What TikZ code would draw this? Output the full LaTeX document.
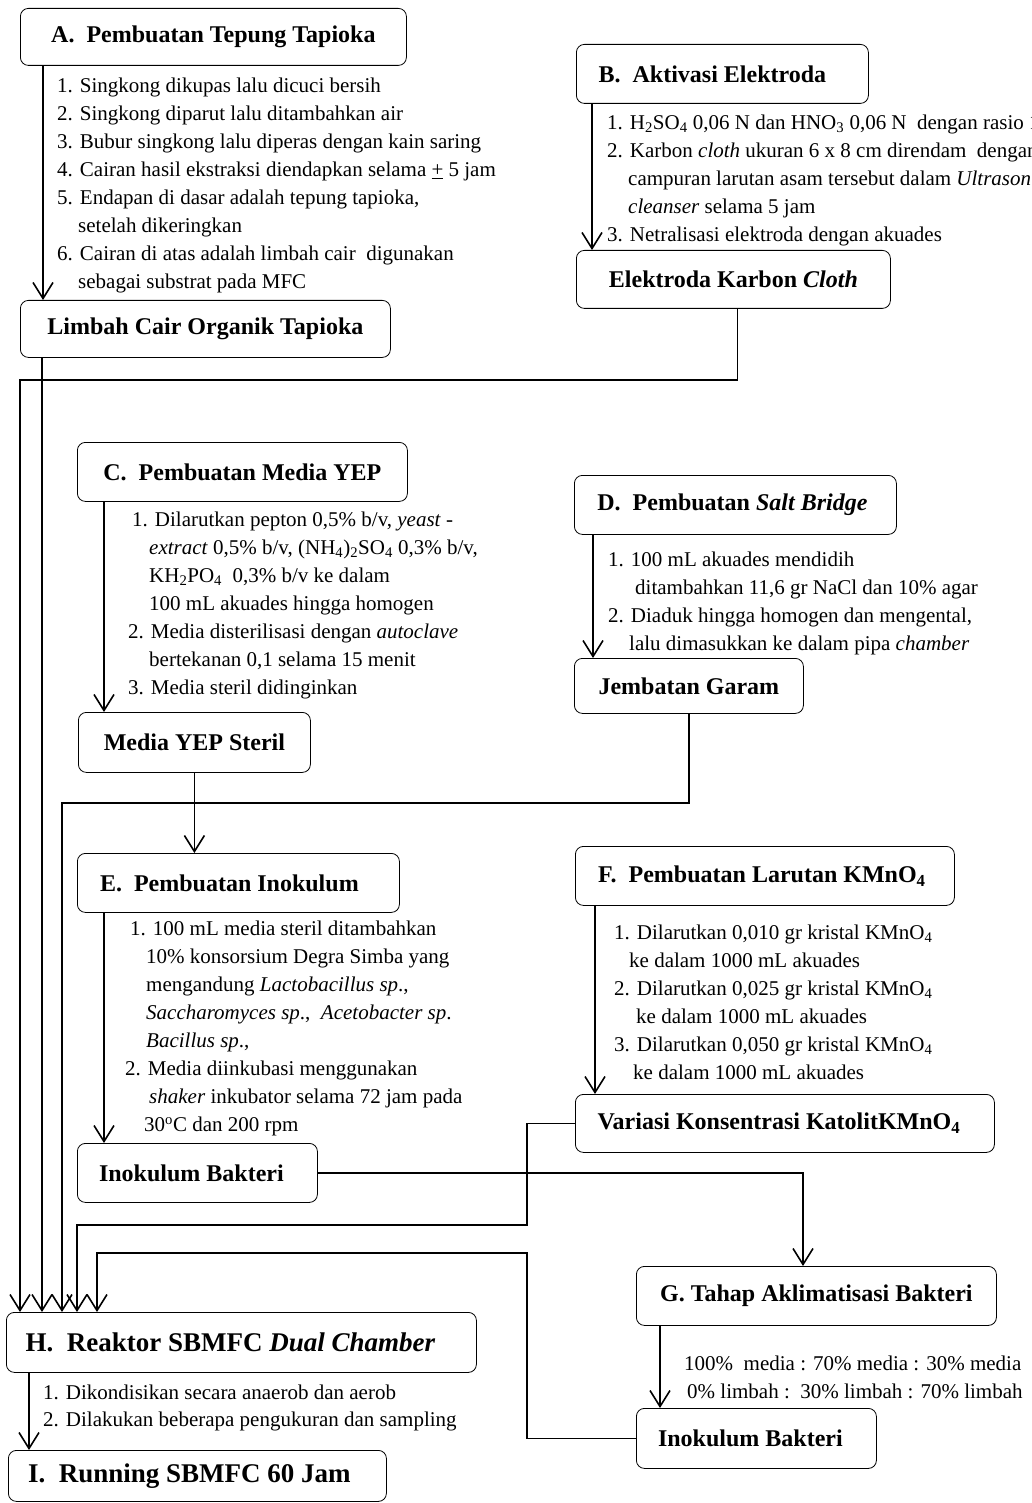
\documentclass[tikz,border=0pt]{standalone}
\usepackage{fontspec}
\setmainfont{Liberation Serif}
\usetikzlibrary{arrows.meta,positioning}
\newcommand{\ind}{\hspace*{21pt}}
\newcommand{\geser}[1]{\hspace*{#1pt}}

\begin{document}
\begin{tikzpicture}[x=1pt,y=-1pt,
  kotak/.style={rectangle,rounded corners=8pt,draw,line width=0.8pt,anchor=north west,
                inner sep=0pt,minimum height=58pt,font=\fontsize{24}{28}\selectfont\bfseries},
  besar/.style={font=\fontsize{27}{30}\selectfont\bfseries},
  daftar/.style={anchor=north west,inner sep=0pt,align=left,font=\fontsize{21}{28}\selectfont},
  arr/.style={-{Straight Barb[length=16pt,width=20pt]},line width=1.6pt}]

  \useasboundingbox (0,0) rectangle (1032,1503);

  % kotak-kotak tahap
  \node[kotak,minimum width=386pt,minimum height=57pt] (A) at (20,8)
    {A.\ \ Pembuatan Tepung Tapioka};
  \node[kotak,minimum width=370pt,minimum height=57pt] (limbah) at (20,300)
    {Limbah Cair Organik Tapioka};
  \node[kotak,minimum width=292pt,minimum height=59pt] (B) at (576,44)
    {B.\ \ Aktivasi Elektroda\geser{20}};
  \node[kotak,minimum width=314pt] (elek) at (576,250)
    {Elektroda Karbon \textit{Cloth}};
  \node[kotak,minimum width=330pt,minimum height=59pt] (C) at (77,442)
    {C.\ \ Pembuatan Media YEP};
  \node[kotak,minimum width=232pt,minimum height=60pt] (media) at (78,712)
    {Media YEP Steril};
  \node[kotak,minimum width=322pt,minimum height=59pt] (D) at (574,475)
    {D.\ \ Pembuatan \textit{Salt Bridge}\geser{6}};
  \node[kotak,minimum width=229pt,minimum height=55pt] (garam) at (574,658)
    {Jembatan Garam};
  \node[kotak,minimum width=322pt,minimum height=59pt] (E) at (77,853)
    {E.\ \ Pembuatan Inokulum\geser{18}};
  \node[kotak,minimum width=240pt,minimum height=59pt] (inok) at (77,1143)
    {Inokulum Bakteri\geser{12}};
  \node[kotak,minimum width=379pt,minimum height=59pt] (F) at (575,846)
    {F.\ \ Pembuatan Larutan KMnO\textsubscript{4}\geser{6}};
  \node[kotak,minimum width=419pt] (variasi) at (575,1094)
    {Variasi Konsentrasi KatolitKMnO\textsubscript{4}\geser{12}};
  \node[kotak,minimum width=360pt,minimum height=59pt] (G) at (636,1266)
    {G. Tahap Aklimatisasi Bakteri};
  \node[kotak,minimum width=240pt,minimum height=60pt] (inok2) at (636,1408)
    {Inokulum Bakteri\geser{12}};
  \node[kotak,besar,minimum width=470pt,minimum height=60pt] (H) at (6,1312)
    {H.\ \ Reaktor SBMFC \textit{Dual Chamber}\geser{22}};
  \node[kotak,besar,minimum width=378pt,minimum height=51pt] (I) at (8,1450)
    {I.\ \ Running SBMFC 60 Jam\geser{16}};

  % keterangan langkah
  \node[daftar] (listA) at (57,78) {1. Singkong dikupas lalu dicuci bersih\\
    2. Singkong diparut lalu ditambahkan air\\
    3. Bubur singkong lalu diperas dengan kain saring\\
    4. Cairan hasil ekstraksi diendapkan selama \underline{+} 5 jam\\
    5. Endapan di dasar adalah tepung tapioka,\\
    \ind setelah dikeringkan\\
    6. Cairan di atas adalah limbah cair\ \ digunakan\\
    \ind sebagai substrat pada MFC};
  \node[daftar] (listB) at (607,115) {1. H\textsubscript{2}SO\textsubscript{4} 0,06 N dan HNO\textsubscript{3} 0,06 N\ \ dengan rasio 1\\
    2. Karbon \textit{cloth} ukuran 6 x 8 cm direndam\ \ dengan\\
    \ind campuran larutan asam tersebut dalam \textit{Ultrasonic}\\
    \ind\textit{cleanser} selama 5 jam\\
    3. Netralisasi elektroda dengan akuades};
  \node[daftar] (listC) at (128,512) {\hspace*{4pt}1. Dilarutkan pepton 0,5\% b/v, \textit{yeast} -\\
    \ind\textit{extract} 0,5\% b/v, (NH\textsubscript{4})\textsubscript{2}SO\textsubscript{4} 0,3\% b/v,\\
    \ind KH\textsubscript{2}PO\textsubscript{4}\ \ 0,3\% b/v ke dalam\\
    \ind 100 mL akuades hingga homogen\\
    2. Media disterilisasi dengan \textit{autoclave}\\
    \ind bertekanan 0,1 selama 15 menit\\
    3. Media steril didinginkan};
  \node[daftar] (listD) at (608,552) {1. 100 mL akuades mendidih\\
    \hspace*{27pt}ditambahkan 11,6 gr NaCl dan 10\% agar\\
    2. Diaduk hingga homogen dan mengental,\\
    \ind lalu dimasukkan ke dalam pipa \textit{chamber}};
  \node[daftar] (listE) at (125,921) {\hspace*{5pt}1. 100 mL media steril ditambahkan\\
    \ind 10\% konsorsium Degra Simba yang\\
    \ind mengandung \textit{Lactobacillus sp}.,\\
    \ind\textit{Saccharomyces sp}.,\ \ \textit{Acetobacter sp}.\\
    \ind\textit{Bacillus sp}.,\\
    2. Media diinkubasi menggunakan\\
    \hspace*{24pt}\textit{shaker} inkubator selama 72 jam pada\\
    \hspace*{19pt}30\textsuperscript{o}C dan 200 rpm};
  \node[daftar] (listF) at (614,925) {1. Dilarutkan 0,010 gr kristal KMnO\textsubscript{4}\\
    \hspace*{15pt}ke dalam 1000 mL akuades\\
    2. Dilarutkan 0,025 gr kristal KMnO\textsubscript{4}\\
    \hspace*{22pt}ke dalam 1000 mL akuades\\
    3. Dilarutkan 0,050 gr kristal KMnO\textsubscript{4}\\
    \hspace*{19pt}ke dalam 1000 mL akuades};
  \node[daftar] (listG) at (684,1356) {100\%\ \ media : 70\% media : 30\% media\\
    \hspace*{3pt}0\% limbah :\ \ 30\% limbah : 70\% limbah};
  \node[daftar,font=\fontsize{21}{27}\selectfont] (listH) at (43,1385)
    {1. Dikondisikan secara anaerob dan aerob\\
    2. Dilakukan beberapa pengukuran dan sampling};

  % panah langsung
  \draw[arr] ([xshift=23pt]A.south west) -- ([xshift=23pt]limbah.north west);
  \draw[arr] ([xshift=16pt]B.south west) -- ([xshift=16pt]elek.north west);
  \draw[arr] ([xshift=27pt]C.south west) -- ([xshift=26pt]media.north west);
  \draw[arr] (media.south) -- (media.south |- E.north);
  \draw[arr] ([xshift=19pt]D.south west) -- ([xshift=19pt]garam.north west);
  \draw[arr] ([xshift=27pt]E.south west) -- ([xshift=27pt]inok.north west);
  \draw[arr] ([xshift=20pt]F.south west) -- ([xshift=20pt]variasi.north west);
  \draw[arr] ([xshift=24pt]G.south west) -- ([xshift=24pt]inok2.north west);
  \draw[arr] ([xshift=23pt]H.south west) -- ([xshift=21pt]I.north west);
  \draw[arr] (inok.east) -| ([xshift=167pt]G.north west);

  % jalur ke reaktor
  \coordinate (tA) at ([xshift=22pt]limbah.south west);
  \coordinate (tB) at (20,380);
  \coordinate (tD) at (62,803);
  \coordinate (tF) at (527,1225);
  \coordinate (tG) at (527,1253);
  \draw[arr] (tA) -- (tA |- H.north);
  \draw[arr] ([xshift=4pt]elek.south) |- (tB) -- (tB |- H.north);
  \draw[arr] (garam.south) |- (tD) -- (tD |- H.north);
  \draw[arr] (variasi.west) -| (tF) -| ([xshift=71pt]H.north west);
  \draw[arr] (inok2.west) -| (tG) -| ([xshift=91pt]H.north west);
\end{tikzpicture}
\end{document}
